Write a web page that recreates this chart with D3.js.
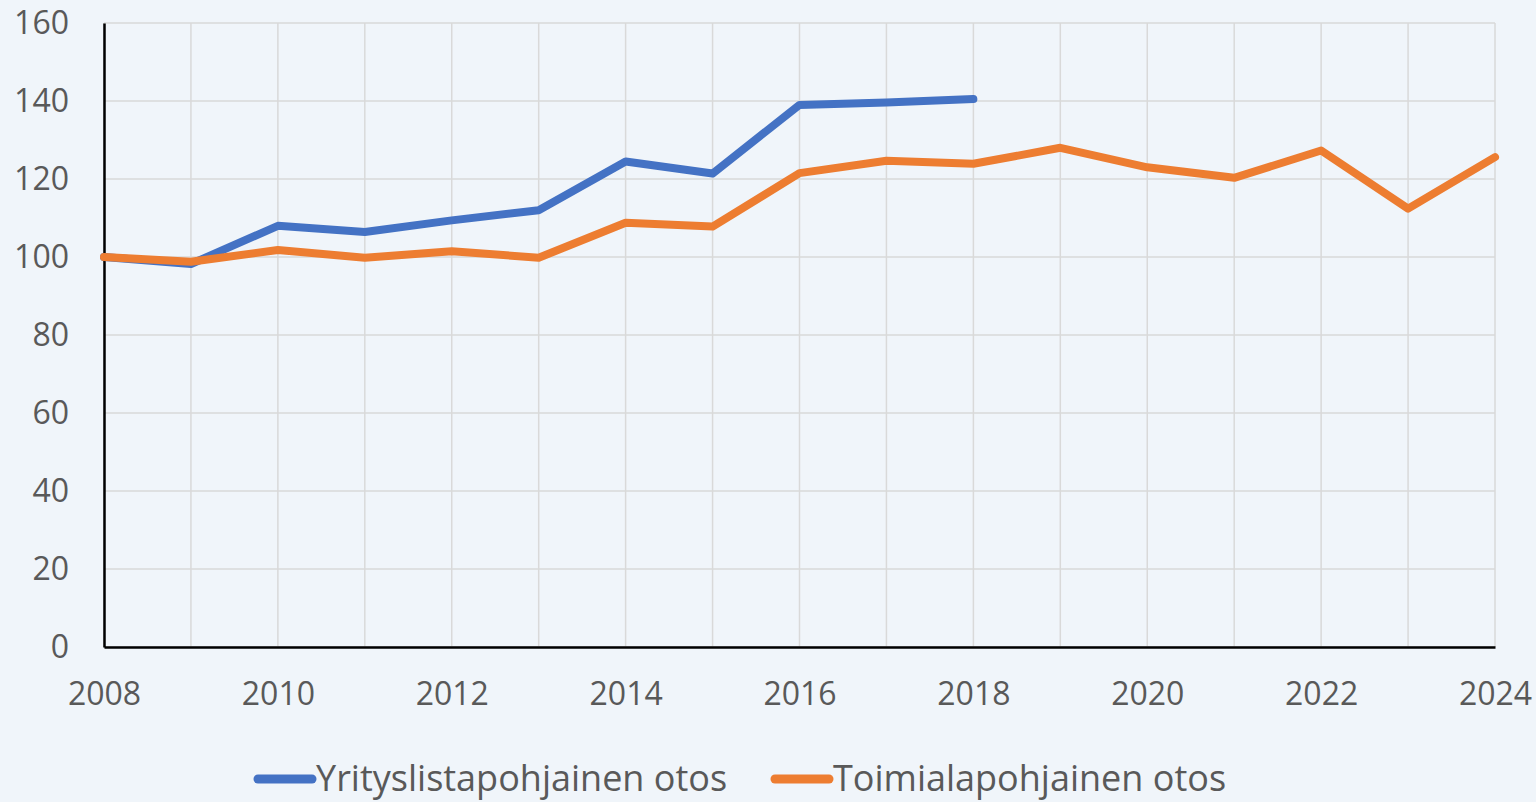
<!DOCTYPE html>
<html>
<head>
<meta charset="utf-8">
<script src="https://cdn.jsdelivr.net/npm/d3@7"></script>
<style>
  html, body { margin: 0; padding: 0; background: #f0f5fa; }
  svg { display: block; }
  text { font-family: "Open Sans", sans-serif; fill: #595959; }
</style>
</head>
<body>
<div class="chart"></div>
<script>
// data
const years = d3.range(2008, 2025);
const yritysValues = [100, 98.2, 108, 106.4, 109.4, 112, 124.5, 121.4, 139, 139.6, 140.5];
const toimialaValues = [100, 98.8, 101.8, 99.8, 101.5, 99.8, 108.8, 107.8, 121.5, 124.7, 123.9,
    128, 123, 120.3, 127.3, 112.4, 125.6];
const xTicks = [2008, 2010, 2012, 2014, 2016, 2018, 2020, 2022, 2024];
const yTicks = [0, 20, 40, 60, 80, 100, 120, 140, 160];
const seriesNames = ['Yrityslistapohjainen otos', 'Toimialapohjainen otos'];
const colors = ['#4472c4', '#ed7d31'];

const series = [yritysValues, toimialaValues].map((vals, i) => ({
    name: seriesNames[i],
    color: colors[i],
    values: vals.map((v, j) => ({ year: years[j], value: v }))
}));

const W = 1536, H = 802;
const margin = { top: 23, right: 41, bottom: 155, left: 104 };
const width = W - margin.left - margin.right;
const height = H - margin.top - margin.bottom;

const xScale = d3.scaleLinear().domain([2008, 2024]).range([0, width]);
const yScale = d3.scaleLinear().domain([0, 160]).range([height, 0]);

const svg = d3.select('.chart')
    .append('svg')
    .attr('width', W)
    .attr('height', H);

const g = svg.append('g')
    .attr('transform', `translate(${margin.left}, ${margin.top})`);

// gridlines
g.append('g')
    .selectAll('line')
    .data(yTicks)
    .join('line')
    .attr('x1', 0).attr('x2', width)
    .attr('y1', d => yScale(d)).attr('y2', d => yScale(d))
    .attr('stroke', '#d9d9d9').attr('stroke-width', 1.5);

g.append('g')
    .selectAll('line')
    .data(years)
    .join('line')
    .attr('x1', d => xScale(d)).attr('x2', d => xScale(d))
    .attr('y1', 0).attr('y2', height)
    .attr('stroke', '#d9d9d9').attr('stroke-width', 1.5);

// axes
const yAxis = d3.axisLeft(yScale).tickValues(yTicks).tickSize(0).tickPadding(35);
const yAxisDraw = g.append('g').call(yAxis);
yAxisDraw.select('.domain').attr('stroke', '#000').attr('stroke-width', 2.5);
yAxisDraw.selectAll('text').attr('font-size', 32).style('font-family', '"Open Sans", sans-serif').attr('fill', '#595959');

const xAxis = d3.axisBottom(xScale).tickValues(xTicks).tickFormat(d3.format('d')).tickSize(0).tickPadding(35);
const xAxisDraw = g.append('g').attr('transform', `translate(0, ${height})`).call(xAxis);
xAxisDraw.select('.domain').attr('stroke', '#000').attr('stroke-width', 2.5);
xAxisDraw.selectAll('text').attr('font-size', 32).style('font-family', '"Open Sans", sans-serif').attr('fill', '#595959');

// lines
const line = d3.line().x(d => xScale(d.year)).y(d => yScale(d.value));

g.append('g')
    .selectAll('path')
    .data(series)
    .join('path')
    .attr('d', d => line(d.values))
    .attr('fill', 'none')
    .attr('stroke', d => d.color)
    .attr('stroke-width', 8)
    .attr('stroke-linejoin', 'round')
    .attr('stroke-linecap', 'round');

// legend (nudged up a little so descenders stay inside the page)
const legendPos = [258, 775];
const legend = svg.append('g').attr('transform', 'translate(0, 779)');
const items = legend.selectAll('g')
    .data(series)
    .join('g')
    .attr('transform', (d, i) => `translate(${legendPos[i]}, 0)`);

items.append('line')
    .attr('x1', 0).attr('x2', 54)
    .attr('stroke', d => d.color)
    .attr('stroke-width', 9)
    .attr('stroke-linecap', 'round');

items.append('text')
    .attr('x', 58)
    .attr('dy', '0.34em')
    .attr('font-size', 36)
    .text(d => d.name);
</script>
</body>
</html>
